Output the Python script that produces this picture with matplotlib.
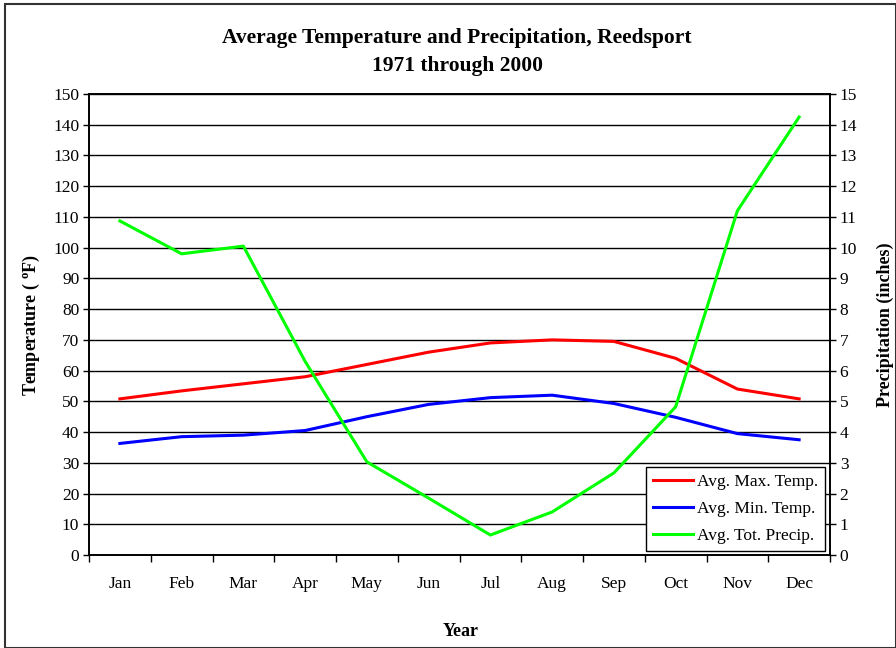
import matplotlib
matplotlib.use("Agg")
import matplotlib.pyplot as plt
from matplotlib.patches import Rectangle
import numpy as np

months = ["Jan", "Feb", "Mar", "Apr", "May", "Jun", "Jul", "Aug", "Sep", "Oct", "Nov", "Dec"]
max_temp = [50.8, 53.4, 55.7, 58.0, 62.0, 66.0, 69.0, 70.0, 69.5, 64.0, 54.0, 50.8]
min_temp = [36.3, 38.5, 39.0, 40.5, 45.0, 49.0, 51.2, 52.0, 49.3, 44.8, 39.5, 37.5]
precip = [10.87, 9.8, 10.05, 6.3, 3.03, 1.85, 0.65, 1.4, 2.67, 4.82, 11.2, 14.25]

plt.rcParams['font.family'] = ['Liberation Serif', 'DejaVu Serif']

fig = plt.figure(figsize=(8.96, 6.48), dpi=100)
W, H = 896, 648
ax = fig.add_axes([89 / W, 1 - 555 / H, (830 - 89) / W, (555 - 94) / H])
ax2 = ax.twinx()

x = np.arange(len(months))
l1, = ax.plot(x, max_temp, color="#ff0000", lw=2.2, label="Avg. Max. Temp.")
l2, = ax.plot(x, min_temp, color="#0000ff", lw=2.2, label="Avg. Min. Temp.")
l3, = ax2.plot(x, precip, color="#00ff00", lw=2.2, label="Avg. Tot. Precip.")

ax.set_xlim(-0.5, 11.5)
ax.set_ylim(0, 150)
ax2.set_ylim(0, 15)
ax.set_yticks(np.arange(0, 151, 10))
ax2.set_yticks(np.arange(0, 16, 1))
ax.set_xticks(x)
ax.set_xticklabels(months)
ax.set_xticks(np.arange(-0.5, 12, 1), minor=True)
ax.tick_params(axis='x', which='major', length=0, pad=15, labelsize=12.5)
ax.tick_params(axis='x', which='minor', length=5, width=1, direction='out')
ax.tick_params(axis='y', length=4, width=1, direction='out', labelsize=12.5, pad=3)
ax2.tick_params(axis='y', length=4, width=1, direction='out', labelsize=12.5, pad=3)

ax.grid(axis='y', color='black', lw=1)
ax.set_axisbelow(True)
for sp in ax.spines.values():
    sp.set_linewidth(1.2)
for sp in ax2.spines.values():
    sp.set_linewidth(1.2)

ax.set_ylabel("Temperature ( $^{\\mathregular{o}}$F)", fontsize=13, fontweight='bold', labelpad=8)
ax2.set_ylabel("Precipitation (inches)", fontsize=13, fontweight='bold', labelpad=14)
fig.text(461 / W, 1 - 631 / H, "Year", ha='center', va='center', fontsize=13, fontweight='bold')

fig.text(457 / W, 1 - 38 / H, "Average Temperature and Precipitation, Reedsport",
         ha='center', va='center', fontsize=15.5, fontweight='bold')
fig.text(457 / W, 1 - 66 / H, "1971 through 2000",
         ha='center', va='center', fontsize=15.5, fontweight='bold')

leg = ax2.legend(handles=[l1, l2, l3], loc='lower right', bbox_to_anchor=(1.0 - 5 / 741, 4 / 461),
                 fontsize=12.5, frameon=True, fancybox=False, framealpha=1, edgecolor='black',
                 handlelength=2.3, borderpad=0.4, labelspacing=0.62, handletextpad=0.25,
                 borderaxespad=0)
leg.get_frame().set_linewidth(1)

fig.patches.append(Rectangle((5 / W, 0), 1 - 5 / W, 1 - 4 / H, transform=fig.transFigure,
                             fill=False, edgecolor='#333333', lw=1.5))

fig.savefig("out.png", dpi=100)
